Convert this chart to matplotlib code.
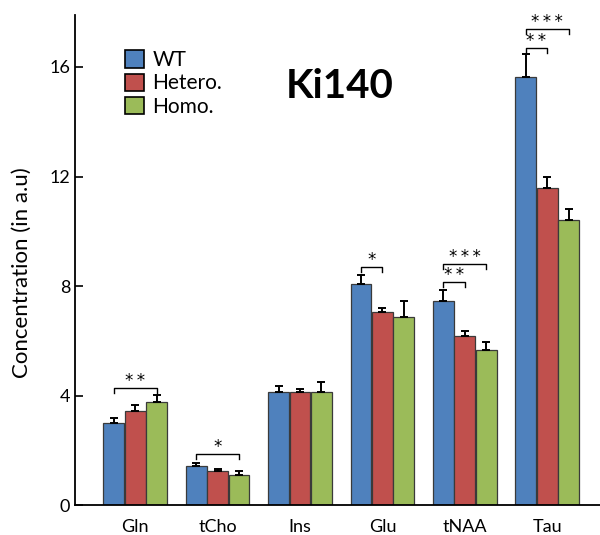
import numpy as np
import matplotlib
matplotlib.use('Agg')
import matplotlib.pyplot as plt
from matplotlib.patches import Patch

# Data
categories = ['Gln', 'tCho', 'Ins', 'Glu', 'tNAA', 'Tau']
groups = ['WT', 'Hetero.', 'Homo.']
wt = [3.00, 1.42, 4.12, 8.07, 7.45, 15.62]
hetero = [3.43, 1.24, 4.13, 7.05, 6.17, 11.58]
homo = [3.76, 1.10, 4.13, 6.87, 5.66, 10.41]
wt_err = [0.19, 0.11, 0.24, 0.33, 0.42, 0.84]
hetero_err = [0.22, 0.08, 0.10, 0.16, 0.19, 0.40]
homo_err = [0.26, 0.13, 0.38, 0.58, 0.29, 0.40]

# significance brackets: (category, first group, second group, height, label)
brackets = [
    (0, 0, 2, 4.27, '**'),
    (1, 0, 2, 1.86, '*'),
    (3, 0, 1, 8.69, '*'),
    (4, 0, 1, 8.15, '**'),
    (4, 0, 2, 8.80, '***'),
    (5, 0, 1, 16.70, '**'),
    (5, 0, 2, 17.39, '***'),
]

colors = ['#4F81BD', '#C0504D', '#9BBB59']

plt.rcParams['font.family'] = ['Lato', 'DejaVu Sans']

fig = plt.figure(figsize=(6, 5.35), dpi=100, facecolor='white')
ax = fig.add_axes([0.125, 0.056, 0.875, 0.916])

x = np.arange(len(categories))
width = 0.26
offsets = [-width, 0, width]
values = [wt, hetero, homo]
errors = [wt_err, hetero_err, homo_err]

for i in range(3):
    ax.bar(x + offsets[i], values[i], width=width*0.97, color=colors[i],
           edgecolor='#3a3a3a', linewidth=0.9, zorder=2)
    ax.errorbar(x + offsets[i], values[i],
                yerr=[np.zeros(len(categories)), errors[i]],
                fmt='none', ecolor='black', elinewidth=1.4, capsize=3,
                capthick=1.4, zorder=3)

# significance marks
tick = 0.18
for c, g1, g2, h, lab in brackets:
    x1 = c + offsets[g1]
    x2 = c + offsets[g2]
    ax.plot([x1, x1, x2, x2], [h - tick, h, h, h - tick], color='black',
            linewidth=1.0, zorder=4)
    ax.text((x1 + x2) / 2, h - 0.08, '\u2009'.join(lab), ha='center',
            va='bottom', fontsize=12, family='DejaVu Sans')

ax.set_xlim(-0.73, 5.64)
ax.set_ylim(0, 17.9)
ax.set_yticks([0, 4, 8, 12, 16])
ax.set_xticks(x)
ax.set_xticklabels(categories, fontsize=13)
ax.tick_params(axis='x', length=0, pad=10)
ax.tick_params(axis='y', direction='in', length=6, width=1.2, labelsize=13)

ax.spines['right'].set_color('none')
ax.spines['top'].set_color('none')
ax.spines['left'].set_linewidth(1.3)
ax.spines['bottom'].set_linewidth(1.3)

ax.set_ylabel('Concentration (in a.u)', fontsize=16)
ax.yaxis.set_label_coords(-0.083, 0.475)

handles = [Patch(facecolor=colors[i], edgecolor='black', linewidth=1.2)
           for i in range(3)]
ax.legend(handles, groups, loc='upper left', bbox_to_anchor=(0.08, 0.945),
          frameon=False, fontsize=15, handlelength=0.9, handleheight=0.9,
          handletextpad=0.4, labelspacing=0.15, borderaxespad=0)

ax.text(0.505, 0.855, 'Ki140', transform=ax.transAxes, ha='center',
        va='center', fontsize=29, fontweight='bold')

plt.savefig('out.png', dpi=100)
